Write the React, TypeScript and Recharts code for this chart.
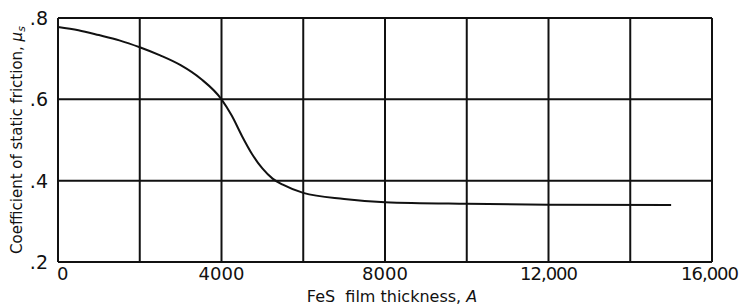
import { LineChart, Line, XAxis, YAxis, CartesianGrid } from 'recharts';

// FeS film thickness (A) vs coefficient of static friction
const thickness = [0, 500, 1000, 1500, 2000, 2500, 3000, 3500, 4000, 4250, 4500, 4750, 5000, 5250, 5500, 6000, 7000, 8000, 10000, 12000, 15000];
const friction = [0.778, 0.77, 0.758, 0.745, 0.728, 0.708, 0.684, 0.65, 0.6, 0.56, 0.51, 0.465, 0.43, 0.405, 0.39, 0.37, 0.355, 0.347, 0.343, 0.341, 0.34];

const xTicks = [0, 2000, 4000, 6000, 8000, 10000, 12000, 14000, 16000];
const xTickLabels: Record<number, string> = { 0: '0', 4000: '4000', 8000: '8000', 12000: '12,000', 16000: '16,000' };
const yTicks = [0.2, 0.4, 0.6, 0.8];
const yTickLabels = ['.2', '.4', '.6', '.8'];

const data = thickness.map((t, i) => ({ t, mu: friction[i] }));

const FONT = '"DejaVu Sans", sans-serif';

function XTick(props: any) {
  const { x, y, payload } = props;
  const label = xTickLabels[payload.value];
  if (!label) return null;
  const first = payload.value === 0;
  const last = payload.value === 16000;
  return (
    <text
      x={first ? x - 1 : last ? x + 26 : x}
      y={y + 10}
      textAnchor={first ? 'start' : last ? 'end' : 'middle'}
      fontFamily={FONT}
      fontSize={18}
      letterSpacing={label.includes(',') ? -1 : 0}
      fill="#111"
    >
      {label}
    </text>
  );
}

function YTick(props: any) {
  const { x, y, payload } = props;
  const idx = yTicks.indexOf(payload.value);
  return (
    <text x={x - 2} y={y + 7} textAnchor="end" fontFamily={FONT} fontSize={19} fill="#111">
      {yTickLabels[idx]}
    </text>
  );
}

export default function App() {
  return (
    <div style={{ position: 'absolute', left: 0, top: 0, width: 742, height: 306, background: '#fff' }}>
      <LineChart width={742} height={306} data={data} margin={{ top: 18, right: 30, left: 0, bottom: 0 }}>
        <CartesianGrid stroke="#111" strokeWidth={2} />
        <XAxis
          dataKey="t"
          type="number"
          domain={[0, 16000]}
          ticks={xTicks}
          interval={0}
          tick={<XTick />}
          tickLine={false}
          axisLine={{ stroke: '#111', strokeWidth: 2 }}
          height={44}
        />
        <YAxis
          type="number"
          domain={[0.2, 0.8]}
          ticks={yTicks}
          interval={0}
          tick={<YTick />}
          tickLine={false}
          axisLine={{ stroke: '#111', strokeWidth: 2 }}
          width={58}
        />
        <Line type="monotone" dataKey="mu" stroke="#111" strokeWidth={2} dot={false} isAnimationActive={false} />
        <text x={22} y={140} transform="rotate(-90 22 140)" textAnchor="middle" fontFamily={FONT} fontSize={15} fill="#111">
          Coefficient of static friction, <tspan fontStyle="italic">μ</tspan>
          <tspan fontStyle="italic" fontSize={11} dy={3}>s</tspan>
        </text>
        <text x={392} y={302} textAnchor="middle" fontFamily={FONT} fontSize={16} fill="#111" xmlSpace="preserve">
          FeS  film thickness, <tspan fontStyle="italic">A</tspan>
        </text>
      </LineChart>
    </div>
  );
}
